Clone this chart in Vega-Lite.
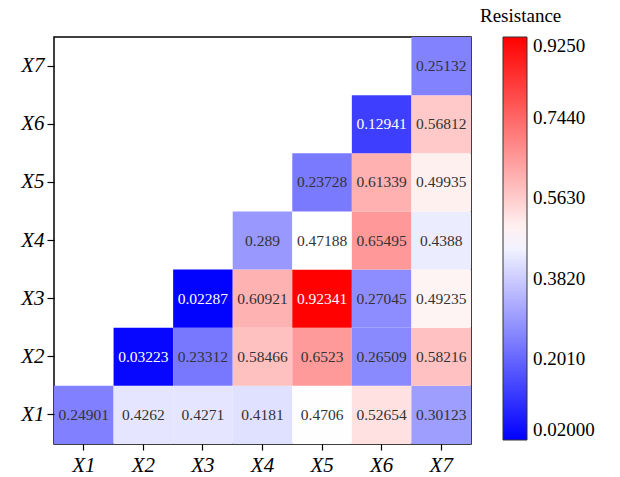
{
  "$schema": "https://vega.github.io/schema/vega-lite/v6.json",
  "autosize": {"type": "none"},
  "padding": {"left": 54, "top": 37, "right": 149, "bottom": 33},
  "width": 417,
  "height": 407,
  "background": "white",
  "title": {
    "text": "Resistance",
    "frame": "group",
    "anchor": "start",
    "dx": 426,
    "offset": 11,
    "font": "Liberation Serif",
    "fontSize": 19,
    "fontWeight": "normal",
    "color": "#000"
  },
  "config": {
    "view": {"stroke": "#000", "strokeWidth": 1.5},
    "axis": {"grid": false, "domain": false}
  },
  "data": {
    "values": [
      {"row": "X1", "col": "X1", "v": 0.24901},
      {"row": "X1", "col": "X2", "v": 0.4262},
      {"row": "X1", "col": "X3", "v": 0.4271},
      {"row": "X1", "col": "X4", "v": 0.4181},
      {"row": "X1", "col": "X5", "v": 0.4706},
      {"row": "X1", "col": "X6", "v": 0.52654},
      {"row": "X1", "col": "X7", "v": 0.30123},
      {"row": "X2", "col": "X2", "v": 0.03223},
      {"row": "X2", "col": "X3", "v": 0.23312},
      {"row": "X2", "col": "X4", "v": 0.58466},
      {"row": "X2", "col": "X5", "v": 0.6523},
      {"row": "X2", "col": "X6", "v": 0.26509},
      {"row": "X2", "col": "X7", "v": 0.58216},
      {"row": "X3", "col": "X3", "v": 0.02287},
      {"row": "X3", "col": "X4", "v": 0.60921},
      {"row": "X3", "col": "X5", "v": 0.92341},
      {"row": "X3", "col": "X6", "v": 0.27045},
      {"row": "X3", "col": "X7", "v": 0.49235},
      {"row": "X4", "col": "X4", "v": 0.289},
      {"row": "X4", "col": "X5", "v": 0.47188},
      {"row": "X4", "col": "X6", "v": 0.65495},
      {"row": "X4", "col": "X7", "v": 0.4388},
      {"row": "X5", "col": "X5", "v": 0.23728},
      {"row": "X5", "col": "X6", "v": 0.61339},
      {"row": "X5", "col": "X7", "v": 0.49935},
      {"row": "X6", "col": "X6", "v": 0.12941},
      {"row": "X6", "col": "X7", "v": 0.56812},
      {"row": "X7", "col": "X7", "v": 0.25132}
    ]
  },
  "encoding": {
    "x": {
      "field": "col",
      "type": "nominal",
      "scale": {"domain": ["X1", "X2", "X3", "X4", "X5", "X6", "X7"], "paddingInner": 0, "paddingOuter": 0},
      "axis": {
        "title": null,
        "labelAngle": 0,
        "labelFont": "Liberation Serif",
        "labelFontStyle": "italic",
        "labelFontSize": 21,
        "labelColor": "#000",
        "tickColor": "#000",
        "tickSize": 6,
        "tickWidth": 1.2,
        "labelPadding": 4
      }
    },
    "y": {
      "field": "row",
      "type": "nominal",
      "scale": {"domain": ["X7", "X6", "X5", "X4", "X3", "X2", "X1"], "paddingInner": 0, "paddingOuter": 0},
      "axis": {
        "title": null,
        "labelFont": "Liberation Serif",
        "labelFontStyle": "italic",
        "labelFontSize": 21,
        "labelColor": "#000",
        "tickColor": "#000",
        "tickSize": 7,
        "tickWidth": 1.2,
        "labelPadding": 3
      }
    }
  },
  "layer": [
    {
      "mark": {"type": "rect"},
      "encoding": {
        "color": {
          "field": "v",
          "type": "quantitative",
          "scale": {
            "domain": [0.02, 0.4725, 0.925],
            "range": ["#0000ff", "#ffffff", "#ff0000"],
            "interpolate": "rgb"
          },
          "legend": {
            "title": null,
            "orient": "none",
            "legendX": 449,
            "legendY": 0,
            "direction": "vertical",
            "gradientLength": 403,
            "gradientThickness": 24,
            "gradientStrokeColor": "#333",
            "gradientStrokeWidth": 1,
            "values": [0.02, 0.201, 0.382, 0.563, 0.744, 0.925],
            "labelExpr": "datum.value < 0.05 ? '0.02000' : format(datum.value, '.4f')",
            "labelFont": "Liberation Serif",
            "labelFontSize": 19,
            "labelColor": "#000",
            "labelOffset": 6,
            "labelBaseline": "middle",
            "labelOverlap": false
          }
        }
      }
    },
    {
      "mark": {"type": "text", "font": "Liberation Serif", "fontSize": 15.5},
      "encoding": {
        "text": {"field": "v", "type": "quantitative"},
        "color": {
          "condition": {"test": "datum.v < 0.15 || datum.v > 0.85", "value": "#ffffff"},
          "value": "#333333"
        }
      }
    }
  ]
}
